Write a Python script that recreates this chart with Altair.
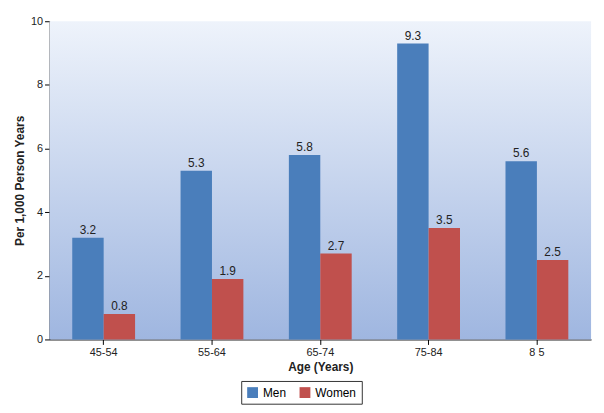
import pandas as pd
import altair as alt

ages = ["45-54", "55-64", "65-74", "75-84", "8 5"]
men = [3.2, 5.3, 5.8, 9.3, 5.6]
women = [0.8, 1.9, 2.7, 3.5, 2.5]

rows = []
for a, m, w in zip(ages, men, women):
    rows.append({"age": a, "sex": "Men", "value": m})
    rows.append({"age": a, "sex": "Women", "value": w})
df = pd.DataFrame(rows)

W, H = 548, 322

bg = alt.Chart(pd.DataFrame({"a": [0]})).mark_rect(
    color=alt.Gradient(
        gradient="linear", x1=0, y1=0, x2=0, y2=1,
        stops=[alt.GradientStop(color="#eef3fb", offset=0),
               alt.GradientStop(color="#9fb6e0", offset=1)],
    )
).encode(x=alt.value(0), x2=alt.value(W), y=alt.value(0), y2=alt.value(H))

x = alt.X("age:N", sort=ages, title="Age (Years)",
          scale=alt.Scale(paddingInner=0.42, paddingOuter=0.21),
          axis=alt.Axis(labelAngle=0, tickSize=5))
base = alt.Chart(df).encode(
    x=x,
    xOffset=alt.XOffset("sex:N", sort=["Men", "Women"]),
)
bars = base.mark_bar().encode(
    y=alt.Y("value:Q", title="Per 1,000 Person Years",
            scale=alt.Scale(domain=[0, 10]),
            axis=alt.Axis(values=list(range(11)), grid=False, tickSize=5,
                          labelOverlap=False)),
    color=alt.Color("sex:N", title=None,
                    scale=alt.Scale(domain=["Men", "Women"], range=["#4a7ebb", "#c0504d"]),
                    legend=alt.Legend(orient="none", legendX=W / 2 - 80, legendY=H + 42,
                                      direction="horizontal",
                                      symbolType="square", symbolSize=120,
                                      strokeColor="#333", padding=5,
                                      labelFontSize=12, columnPadding=12)),
)
labels = base.mark_text(dy=-8, fontSize=12, color="#222").encode(
    y="value:Q", text=alt.Text("value:Q", format=".1f"))

chart = alt.layer(bg, bars, labels).properties(width=W, height=H).configure_view(
    stroke=None).configure_axis(
    domainColor="#000", tickColor="#000", labelColor="#222", labelFontSize=11,
    titleFontSize=12, titleFontWeight="bold", titleColor="#222",
    labelFont="Arial", titleFont="Arial").configure_legend(labelFont="Arial")

chart.save("out.html", embed_options={"renderer": "svg", "actions": False})
